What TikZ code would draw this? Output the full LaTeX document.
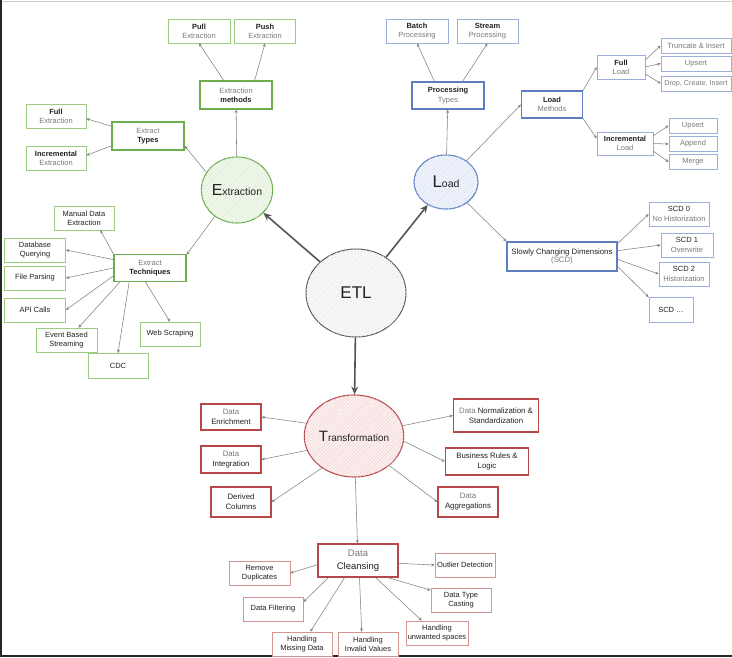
\documentclass[tikz,border=0pt]{standalone}
\usepackage{fontspec}
\setmainfont{Liberation Sans}
\usetikzlibrary{arrows.meta,patterns.meta,shapes.geometric}

\definecolor{gleafc}{HTML}{9CCB84}
\definecolor{gmainc}{HTML}{6DAF4F}
\definecolor{gfill}{HTML}{F3F9EF}
\definecolor{ghatch}{HTML}{D2E8C5}
\definecolor{bleafc}{HTML}{9AB0DA}
\definecolor{bmainc}{HTML}{5D7FC2}
\definecolor{bfill}{HTML}{F2F5FB}
\definecolor{bhatch}{HTML}{D0DBEF}
\definecolor{rleafc}{HTML}{D79494}
\definecolor{rmainc}{HTML}{B8474A}
\definecolor{rfill}{HTML}{FCF2F2}
\definecolor{rhatch}{HTML}{F0C9C9}
\definecolor{kfill}{HTML}{FAFAFA}
\definecolor{khatch}{HTML}{E4E4E4}
\definecolor{tgray}{HTML}{7A7A7A}
\definecolor{tdark}{HTML}{222222}
\definecolor{edgec}{HTML}{828282}
\definecolor{hubc}{HTML}{555555}

\newcommand{\lite}[1]{\textcolor{tgray}{#1}}
\newcommand{\fsz}[1]{\fontsize{#1}{#1}\selectfont}

\tikzset{
  box/.style={rectangle, fill=white, align=center, inner sep=1pt, text=tdark,
    font=\fontsize{7.5}{9.2}\selectfont},
  gl/.style={box, draw=gleafc, line width=0.6pt},
  gm/.style={box, draw=gmainc, line width=1.1pt},
  bl/.style={box, draw=bleafc, line width=0.6pt},
  bm/.style={box, draw=bmainc, line width=1.1pt},
  rl/.style={box, draw=rleafc, line width=0.7pt},
  rm/.style={box, draw=rmainc, line width=1.1pt, font=\fontsize{7.8}{9.8}\selectfont},
  hubcirc/.style={ellipse, inner sep=0pt, text=tdark},
  arr/.style={draw=edgec, line width=0.55pt, -{Stealth[length=3.5pt,width=3pt]}},
  hub/.style={draw=hubc, line width=1.6pt, -{Stealth[length=8pt,width=7pt]}},
}

\begin{document}
\begin{tikzpicture}[x=1pt,y=-1pt]
\useasboundingbox (0,0) rectangle (732,657);
\fill[white] (0,0) rectangle (732,657);
% page frame
\draw[black!20, line width=1pt] (2,1.5) -- (732,1.5);
\draw[black!85, line width=2pt] (1,0) -- (1,657);
\draw[black!85, line width=2pt] (0,656) -- (732,656);

% ---------- central node ----------
\node[hubcirc, draw=hubc, line width=1pt, fill=kfill,
  postaction={pattern={Lines[angle=45,distance=2.4pt,line width=0.4pt]}, pattern color=khatch},
  minimum width=100, minimum height=88, font=\fsz{17}] (etl) at (356,293) {ETL};

% ---------- extraction ----------
\node[hubcirc, draw=gmainc, line width=1.1pt, fill=gfill,
  postaction={pattern={Lines[angle=45,distance=2.4pt,line width=0.4pt]}, pattern color=ghatch},
  minimum width=70, minimum height=66] (extr) at (237,190) {{\fsz{16}E}{\fsz{10.5}xtraction}};

\node[gl, minimum width=62, minimum height=24] (pull) at (199,31) {\textbf{Pull}\\\lite{Extraction}};
\node[gl, minimum width=61, minimum height=24] (push) at (265,31) {\textbf{Push}\\\lite{Extraction}};
\node[gm, minimum width=72, minimum height=28] (meth) at (236,95) {\lite{Extraction}\\\textbf{methods}};
\node[gm, minimum width=72, minimum height=28] (types) at (148,136) {\lite{Extract}\\\textbf{Types}};
\node[gl, minimum width=60, minimum height=24] (fullx) at (56,116) {\textbf{Full}\\\lite{Extraction}};
\node[gl, minimum width=60, minimum height=24] (incx) at (56,158) {\textbf{Incremental}\\\lite{Extraction}};
\node[gm, minimum width=72, minimum height=27] (tech) at (150,268) {\lite{Extract}\\\textbf{Techniques}};
\node[gl, minimum width=60, minimum height=24] (manual) at (84,218) {Manual Data\\Extraction};
\node[gl, minimum width=61, minimum height=24] (db) at (35,250) {Database\\Querying};
\node[gl, minimum width=61, minimum height=24] (file) at (35,278) {File Parsing};
\node[gl, minimum width=61, minimum height=24] (api) at (35,310) {API Calls};
\node[gl, minimum width=61, minimum height=24] (event) at (66.5,340) {Event Based\\Streaming};
\node[gl, minimum width=60, minimum height=25] (cdc) at (118,366) {CDC};
\node[gl, minimum width=60, minimum height=24] (web) at (170,334) {Web Scraping};

% ---------- load ----------
\node[hubcirc, draw=bmainc, line width=1.1pt, fill=bfill,
  postaction={pattern={Lines[angle=45,distance=2.4pt,line width=0.4pt]}, pattern color=bhatch},
  minimum width=64, minimum height=54] (load) at (446,182) {{\fsz{17}L}{\fsz{10.5}oad}};

\node[bl, minimum width=62, minimum height=24] (batch) at (417,31) {\textbf{Batch}\\\lite{Processing}};
\node[bl, minimum width=61, minimum height=24] (stream) at (487.5,31) {\textbf{Stream}\\\lite{Processing}};
\node[bm, minimum width=72, minimum height=27] (proc) at (448,95.5) {\textbf{Processing}\\\lite{Types}};
\node[bm, minimum width=61, minimum height=27] (lmeth) at (552,104.5) {\textbf{Load}\\\lite{Methods}};
\node[bl, minimum width=48, minimum height=24] (fulll) at (621,67) {\textbf{Full}\\\lite{Load}};
\node[bl, minimum width=56, minimum height=23] (incl) at (625,143.5) {\textbf{Incremental}\\\lite{Load}};
\node[bl, minimum width=70, minimum height=15] (trunc) at (696,45.5) {\lite{Truncate \& Insert}};
\node[bl, minimum width=70, minimum height=15] (ups1) at (696,63.5) {\lite{Upsert}};
\node[bl, minimum width=70, minimum height=15, font=\fontsize{7.2}{9}\selectfont] (drop) at (696,83.5) {\lite{Drop, Create, Insert}};
\node[bl, minimum width=48, minimum height=15] (ups2) at (693,125.5) {\lite{Upsert}};
\node[bl, minimum width=48, minimum height=15] (app) at (693,144) {\lite{Append}};
\node[bl, minimum width=48, minimum height=15] (merge) at (693,162) {\lite{Merge}};
\node[bm, minimum width=110, minimum height=29, font=\fontsize{7.8}{8.8}\selectfont] (scd) at (562,256.5) {Slowly Changing Dimensions\\\lite{(SCD)}};
\node[bl, minimum width=60, minimum height=24] (scd0) at (679,214) {SCD 0\\\lite{No Historization}};
\node[bl, minimum width=52, minimum height=24] (scd1) at (687,245) {SCD 1\\\lite{Overwrite}};
\node[bl, minimum width=50, minimum height=24] (scd2) at (684,274) {SCD 2\\\lite{Historization}};
\node[bl, minimum width=44, minimum height=25] (scdn) at (671,310) {SCD \dots};

% ---------- transformation ----------
\node[hubcirc, draw=rmainc, line width=1.1pt, fill=rfill,
  postaction={pattern={Lines[angle=45,distance=2.4pt,line width=0.4pt]}, pattern color=rhatch},
  minimum width=92, minimum height=82] (trans) at (354,436) {{\fsz{15}T}{\fsz{10}ransformation}};

\node[rm, minimum width=60, minimum height=26] (enrich) at (231,417) {\lite{Data}\\Enrichment};
\node[rm, minimum width=60, minimum height=27] (integ) at (231,459.5) {\lite{Data}\\Integration};
\node[rm, minimum width=60, minimum height=30] (derived) at (241,502) {Derived\\Columns};
\node[rm, minimum width=85, minimum height=33] (norm) at (496,415.5) {\lite{Data} Normalization \&\\Standardization};
\node[rm, minimum width=83, minimum height=27] (bus) at (487,461.5) {Business Rules \&\\Logic};
\node[rm, minimum width=60, minimum height=30] (aggr) at (468,502) {\lite{Data}\\Aggregations};

\node[rm, minimum width=80, minimum height=33, font=\fontsize{9.5}{12.5}\selectfont] (clean) at (358,560.5) {\lite{Data}\\Cleansing};
\node[rl, minimum width=61, minimum height=24] (remdup) at (259.5,573) {Remove\\Duplicates};
\node[rl, minimum width=60, minimum height=24] (filt) at (273,609) {Data Filtering};
\node[rl, minimum width=60, minimum height=24] (missing) at (302,644) {Handling\\Missing Data};
\node[rl, minimum width=60, minimum height=24] (invalid) at (368,644) {Handling\\Invalid Values};
\node[rl, minimum width=62, minimum height=24] (unw) at (437,633) {Handling\\unwanted spaces};
\node[rl, minimum width=60, minimum height=24] (dtc) at (461,600) {Data Type\\Casting};
\node[rl, minimum width=60, minimum height=24] (outl) at (465,565) {Outlier Detection};

% ---------- connectors ----------
\draw[hub] (etl) -- (extr);
\draw[hub] (etl.50) -- (load);
\draw[hub] (etl) -- (trans);

\draw[arr] (extr) -- (meth);
\draw[arr] (extr.150) -- (types.-15);
\draw[arr] (extr.230) -- (tech.20);
\draw[arr] (meth.130) -- (pull.south);
\draw[arr] (meth.38) -- (push.south);
\draw[arr] (types.165) -- (fullx.-5);
\draw[arr] (types.195) -- (incx.5);
\draw[arr] (tech.north west) -- (manual.-37);
\draw[arr] (tech.167) -- (db.east);
\draw[arr] (tech.west) -- (file.east);
\draw[arr] (tech.192) -- (api.east);
\draw[arr] (tech.205) -- (event.46);
\draw[arr] (tech.214) -- (cdc.north);
\draw[arr] (tech.252) -- (web.north);

\draw[arr] (load) -- (proc);
\draw[arr] (load) -- (lmeth.west);
\draw[arr] (load) -- (scd.north west);
\draw[arr] (proc.134) -- (batch.south);
\draw[arr] (proc.44) -- (stream.south);
\draw[arr] (lmeth.north east) -- (fulll.west);
\draw[arr] (lmeth.south east) -- (incl.170);
\draw[arr] (fulll.16) -- (trunc.west);
\draw[arr] (fulll.east) -- (ups1.west);
\draw[arr] (fulll.-16) -- (drop.west);
\draw[arr] (incl.15) -- (ups2.west);
\draw[arr] (incl.east) -- (app.west);
\draw[arr] (incl.-15) -- (merge.west);
\draw[arr] (scd.13) -- (scd0.west);
\draw[arr] (scd.6) -- (scd1.west);
\draw[arr] (scd.-3) -- (scd2.west);
\draw[arr] (scd.-10) -- (scdn.north west);

\draw[arr] (trans.165) -- (enrich.east);
\draw[arr] (trans.197) -- (integ.east);
\draw[arr] (trans.225) -- (derived.east);
\draw[arr] (trans.12) -- (norm.west);
\draw[arr] (trans.-6) -- (bus.west);
\draw[arr] (trans.-40) -- (aggr.west);
\draw[arr] (trans) -- (clean);
\draw[arr] (clean.186) -- (remdup.east);
\draw[arr] (clean.210) -- (filt.13);
\draw[arr] (clean.232) -- (missing.56);
\draw[arr] (clean.-85) -- (invalid.117);
\draw[arr] (clean.-44) -- (unw.141);
\draw[arr] (clean.-30) -- (dtc.162);
\draw[arr] (clean.-4) -- (outl.west);
\end{tikzpicture}
\end{document}
